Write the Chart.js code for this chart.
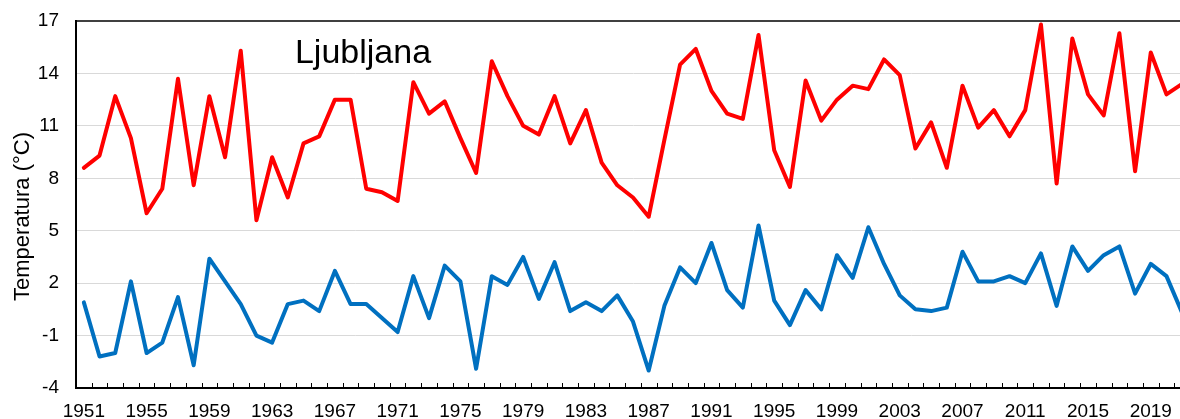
<!DOCTYPE html>
<html>
<head>
<meta charset="utf-8">
<script src="https://cdn.jsdelivr.net/npm/chart.js@4.4.1/dist/chart.umd.min.js"></script>
<style>
  html, body { margin: 0; padding: 0; background: #fff; overflow: hidden; }
  #wrap { width: 1200px; height: 419px; }
</style>
</head>
<body>
<div id="wrap"><canvas id="tempChart"></canvas></div>
<script>
// years on the category axis
const years = [
  1951, 1952, 1953, 1954, 1955, 1956, 1957, 1958, 1959, 1960,
  1961, 1962, 1963, 1964, 1965, 1966, 1967, 1968, 1969, 1970,
  1971, 1972, 1973, 1974, 1975, 1976, 1977, 1978, 1979, 1980,
  1981, 1982, 1983, 1984, 1985, 1986, 1987, 1988, 1989, 1990,
  1991, 1992, 1993, 1994, 1995, 1996, 1997, 1998, 1999, 2000,
  2001, 2002, 2003, 2004, 2005, 2006, 2007, 2008, 2009, 2010,
  2011, 2012, 2013, 2014, 2015, 2016, 2017, 2018, 2019, 2020,
  2021
];
// only these years get a label
const labelYears = [1951, 1955, 1959, 1963, 1967, 1971, 1975, 1979, 1983, 1987,
  1991, 1995, 1999, 2003, 2007, 2011, 2015, 2019];

// red line (upper)
const upperTemp = [
  8.6, 9.3, 12.7, 10.3, 6.0, 7.4, 13.7, 7.6, 12.7, 9.2,
  15.3, 5.6, 9.2, 6.9, 10.0, 10.4, 12.5, 12.5, 7.4, 7.2,
  6.7, 13.5, 11.7, 12.4, 10.3, 8.3, 14.7, 12.7, 11.0, 10.5,
  12.7, 10.0, 11.9, 8.9, 7.6, 6.9, 5.8, 10.2, 14.5, 15.4,
  13.0, 11.7, 11.4, 16.2, 9.6, 7.5, 13.6, 11.3, 12.5, 13.3,
  13.1, 14.8, 13.9, 9.7, 11.2, 8.6, 13.3, 10.9, 11.9, 10.4,
  11.9, 16.8, 7.7, 16.0, 12.8, 11.6, 16.3, 8.4, 15.2, 12.8,
  13.4
];
// blue line (lower)
const lowerTemp = [
  0.9, -2.2, -2.0, 2.1, -2.0, -1.4, 1.2, -2.7, 3.4, 2.1,
  0.8, -1.0, -1.4, 0.8, 1.0, 0.4, 2.7, 0.8, 0.8, 0.0,
  -0.8, 2.4, 0.0, 3.0, 2.1, -2.9, 2.4, 1.9, 3.5, 1.1,
  3.2, 0.4, 0.9, 0.4, 1.3, -0.2, -3.0, 0.7, 2.9, 2.0,
  4.3, 1.6, 0.6, 5.3, 1.0, -0.4, 1.6, 0.5, 3.6, 2.3,
  5.2, 3.1, 1.3, 0.5, 0.4, 0.6, 3.8, 2.1, 2.1, 2.4,
  2.0, 3.7, 0.7, 4.1, 2.7, 3.6, 4.1, 1.4, 3.1, 2.4,
  0.3
];

const yMin = -4, yMax = 17, yStep = 3;
const stationName = "Ljubljana";
const yTitle = "Temperatura (°C)";
const FONT = "'Liberation Sans', Arial, sans-serif";

// small tick marks pointing up, between categories
const innerTicks = {
  id: "innerTicks",
  afterDraw(chart) {
    const x = chart.scales.x;
    const ctx = chart.ctx;
    const bottom = chart.chartArea.bottom;
    const half = (x.getPixelForValue(1) - x.getPixelForValue(0)) / 2;
    ctx.save();
    ctx.strokeStyle = "#000";
    ctx.lineWidth = 1;
    ctx.beginPath();
    for (let i = 0; i < years.length; i++) {
      const px = Math.round(x.getPixelForValue(i) + half) + 0.5;
      ctx.moveTo(px, bottom);
      ctx.lineTo(px, bottom - 5);
    }
    ctx.stroke();
    ctx.restore();
  }
};

// station name inside the plot and the rotated axis title
const texts = {
  id: "texts",
  afterDraw(chart) {
    const { ctx, chartArea } = chart;
    ctx.save();
    ctx.fillStyle = "#000";
    ctx.textAlign = "center";
    ctx.textBaseline = "alphabetic";
    ctx.font = "34px " + FONT;
    ctx.fillText(stationName, chartArea.left + 287, chartArea.top + 42);

    ctx.translate(chartArea.left - 53, (chartArea.top + chartArea.bottom) / 2 + 12);
    ctx.rotate(-Math.PI / 2);
    ctx.textBaseline = "middle";
    ctx.font = "22px " + FONT;
    ctx.fillText(yTitle, 0, 0);
    ctx.restore();
  }
};

new Chart(document.getElementById("tempChart"), {
  type: "line",
  data: {
    labels: years.map(String),
    datasets: [
      {
        data: upperTemp,
        borderColor: "#ff0000",
        borderWidth: 4,
        pointRadius: 0,
        tension: 0,
        borderJoinStyle: "round",
        borderCapStyle: "round"
      },
      {
        data: lowerTemp,
        borderColor: "#0070c0",
        borderWidth: 4,
        pointRadius: 0,
        tension: 0,
        borderJoinStyle: "round",
        borderCapStyle: "round"
      }
    ]
  },
  plugins: [innerTicks, texts],
  options: {
    responsive: true,
    maintainAspectRatio: false,
    animation: false,
    layout: { padding: { left: 0, right: 10, top: 21, bottom: 0 } },
    plugins: {
      legend: { display: false },
      tooltip: { enabled: false }
    },
    scales: {
      x: {
        type: "category",
        offset: true,
        afterFit(scale) { scale.height = 31; },
        grid: { drawOnChartArea: false, drawTicks: false },
        border: { color: "#000", width: 2 },
        ticks: {
          autoSkip: false,
          maxRotation: 0,
          padding: 12,
          color: "#000",
          font: { family: FONT, size: 19 },
          callback(value) {
            const yr = years[value];
            return labelYears.includes(yr) ? String(yr) : "";
          }
        }
      },
      y: {
        min: yMin,
        max: yMax,
        afterFit(scale) {
          scale.width = 76;
          scale.paddingTop = 0;
          scale.paddingBottom = 0;
        },
        grid: {
          drawTicks: false,
          color: c => (c.tick && c.tick.value === yMax ? "#404040" : "#d9d9d9"),
          lineWidth: c => (c.tick && c.tick.value === yMax ? 2 : 1)
        },
        border: { color: "#000", width: 2 },
        ticks: {
          stepSize: yStep,
          padding: 17,
          color: "#000",
          font: { family: FONT, size: 19 }
        }
      }
    }
  }
});
</script>
</body>
</html>
